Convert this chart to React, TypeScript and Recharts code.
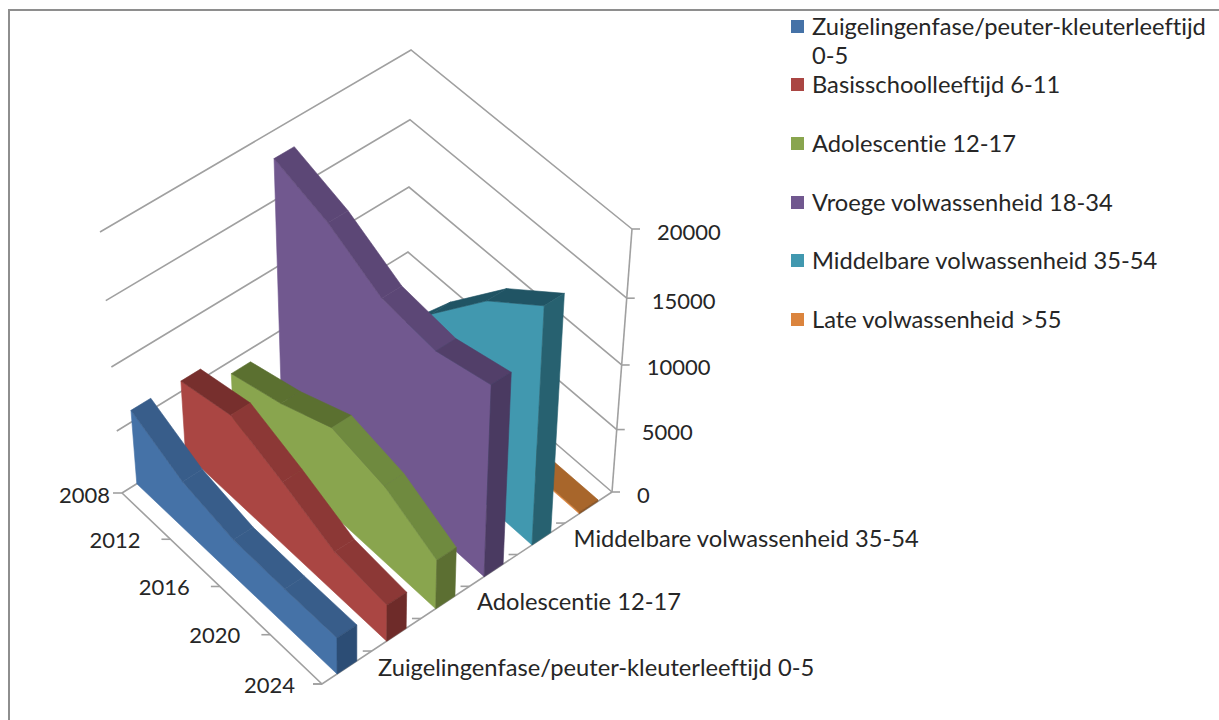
import React from 'react';
import { ScatterChart, Scatter, XAxis, YAxis, Legend } from 'recharts';

const years = ['2008', '2012', '2016', '2020', '2024'];
const seriesNames = [
  'Zuigelingenfase/peuter-kleuterleeftijd 0-5',
  'Basisschoolleeftijd 6-11',
  'Adolescentie 12-17',
  'Vroege volwassenheid 18-34',
  'Middelbare volwassenheid 35-54',
  'Late volwassenheid >55',
];
const infants = [5900, 3900, 3000, 2900, 2900];
const schoolAge = [5800, 6700, 5100, 3300, 2900];
const adolescents = [4000, 5200, 6900, 6000, 3900];
const youngAdults = [18000, 16600, 14400, 13900, 14850];
const middleAged = [3800, 5600, 10900, 15300, 18300];
const lateAdults = [120, 120, 120, 120, 120];
const seriesValues = [infants, schoolAge, adolescents, youngAdults, middleAged, lateAdults];
const valueTicks = [0, 5000, 10000, 15000, 20000];
const axisSeries = [0, 2, 4];

// front face, ridge, ridge where the line climbs, end cap
const faceColors = [
  ['#4572A7', '#385D8A', '#385D8A', '#2C4D75'],
  ['#AA4643', '#8C3836', '#772F2D', '#6E2B29'],
  ['#89A54E', '#6F8A3F', '#5B7030', '#5C6F32'],
  ['#71588F', '#5C4776', '#523F69', '#4A3A61'],
  ['#4198AF', '#205464', '#205464', '#276170'],
  ['#DB843D', '#A8662B', '#A8662B', '#8A5322'],
];

const legendRows = [27, 85, 144, 203, 261, 320];
const yearLabelGap = [12, 30, 30, 30, 27];
const textFont = 'Lato, sans-serif';
const nameSize = 23.7;
const numberSize = 22;
const textColor = '#262626';
const lineColor = '#A0A0A0';

type Pt = { x: number; y: number };

// corners of the box on the page: 2008/front, 2024/front, 2024/back, 2008/back
const floorCorners: Pt[] = [{ x: 122, y: 493 }, { x: 322, y: 684 }, { x: 612, y: 492 }, { x: 407, y: 315 }];
const roofCorners: Pt[] = [{ x: 100, y: 232 }, { x: 320, y: 420 }, { x: 632, y: 229 }, { x: 411, y: 50 }];
const valueMax = 20000;
const ribbonHalf = 0.033;

function quadMap(q: Pt[]) {
  const [p0, p1, p2, p3] = q;
  const dx1 = p1.x - p2.x, dx2 = p3.x - p2.x, dx3 = p0.x - p1.x + p2.x - p3.x;
  const dy1 = p1.y - p2.y, dy2 = p3.y - p2.y, dy3 = p0.y - p1.y + p2.y - p3.y;
  const den = dx1 * dy2 - dx2 * dy1;
  const g = (dx3 * dy2 - dx2 * dy3) / den;
  const h = (dx1 * dy3 - dx3 * dy1) / den;
  const a = p1.x - p0.x + g * p1.x, b = p3.x - p0.x + h * p3.x;
  const d = p1.y - p0.y + g * p1.y, e = p3.y - p0.y + h * p3.y;
  return (u: number, s: number): Pt => {
    const w = g * u + h * s + 1;
    return { x: (a * u + b * s + p0.x) / w, y: (d * u + e * s + p0.y) / w };
  };
}
const floorAt = quadMap(floorCorners);
const roofAt = quadMap(roofCorners);

// u runs along the years, s across the series, value goes up
function project(u: number, s: number, value: number): Pt {
  const v = value / valueMax;
  const w = (v * 0.934) / (1 - 0.066 * v);
  const f = floorAt(u, s);
  const r = roofAt(u, s);
  return { x: f.x + (r.x - f.x) * w, y: f.y + (r.y - f.y) * w };
}

const yearPos = (i: number) => i / (years.length - 1);

const polygon = (fill: string) => (props: any) => (
  <polygon
    points={props.points.map((p: Pt) => `${p.x},${p.y}`).join(' ')}
    fill={fill}
    stroke={fill}
    strokeWidth={0.6}
    strokeLinejoin="round"
  />
);
const polyline = (props: any) => (
  <polyline
    points={props.points.map((p: Pt) => `${p.x},${p.y}`).join(' ')}
    fill="none"
    stroke={lineColor}
    strokeWidth={1.6}
  />
);
const noDot = () => null;

const textShape = (anchor: string, size: number) => (props: any) => (
  <text
    x={props.cx}
    y={props.cy}
    textAnchor={anchor}
    dominantBaseline="central"
    fontFamily={textFont}
    fontSize={size}
    fill={textColor}
    style={{ fontVariantLigatures: 'none' }}
  >
    {props.payload.label}
  </text>
);

function ribbonFaces(values: number[], idx: number) {
  const center = (idx + 0.5) / seriesNames.length;
  const s0 = center - ribbonHalf;
  const s1 = center + ribbonHalf;
  const [front, ridge, rising, cap] = faceColors[idx];
  const last = values.length - 1;
  const faces: { key: string; fill: string; pts: Pt[] }[] = [];

  const topEdge = values.map((v, i) => project(yearPos(i), s0, v));
  faces.push({
    key: `front-${idx}`,
    fill: front,
    pts: [project(0, s0, 0), ...topEdge, project(1, s0, 0)],
  });
  values.slice(0, last).forEach((v, i) => {
    const next = values[i + 1];
    faces.push({
      key: `ridge-${idx}-${i}`,
      fill: next > v ? rising : ridge,
      pts: [
        project(yearPos(i), s0, v),
        project(yearPos(i + 1), s0, next),
        project(yearPos(i + 1), s1, next),
        project(yearPos(i), s1, v),
      ],
    });
  });
  faces.push({
    key: `cap-${idx}`,
    fill: cap,
    pts: [project(1, s0, 0), project(1, s0, values[last]), project(1, s1, values[last]), project(1, s1, 0)],
  });
  return faces;
}

// back series first so the nearer ones cover them
const faces = seriesValues.map((vals, i) => ribbonFaces(vals, i)).reverse().flat();

const wallLines = valueTicks.map((t) => [project(0, 0, t), project(0, 1, t), project(1, 1, t)]);
const axisLines = [
  [project(0, 0, 0), project(1, 0, 0), project(1, 1, 0)],
  [project(1, 1, 0), project(1, 1, valueMax)],
];
const valueTickMarks = valueTicks.map((t) => {
  const p = project(1, 1, t);
  return [p, { x: p.x + 8, y: p.y }];
});
const yearTickMarks = years.map((_, i) => {
  const p = project(yearPos(i), 0, 0);
  return [p, { x: p.x - 9, y: p.y }];
});
const seriesTickMarks = seriesNames.map((_, i) => {
  const p = project(1, i / seriesNames.length, 0);
  return [p, { x: p.x - 9, y: p.y }];
});

const valueLabels = valueTicks.map((t) => {
  const p = project(1, 1, t);
  return { x: p.x + 25, y: p.y + 2, label: String(t) };
});
const yearLabels = years.map((y, i) => {
  const p = project(yearPos(i), 0, 0);
  return { x: p.x - yearLabelGap[i], y: p.y + (i === 0 ? 1 : 0), label: y };
});
const seriesLabels = axisSeries.map((i) => {
  const p = project(1, i / seriesNames.length, 0);
  return { x: p.x + 56, y: p.y - 17, label: seriesNames[i] };
});

// height 0 so the chart does not give up plot space for the legend
function LegendList() {
  return (
    <div style={{ fontFamily: textFont, fontSize: nameSize, fontVariantLigatures: 'none', color: textColor, position: 'relative', width: 428, height: 0 }}>
      {seriesNames.map((name, i) => (
        <div key={name}>
          <div style={{ position: 'absolute', left: 0, top: legendRows[i] - 7, width: 13, height: 13, background: faceColors[i][0] }} />
          <div style={{ position: 'absolute', left: 21, top: legendRows[i] - 15, width: 405, lineHeight: '29px', whiteSpace: i === 0 ? 'normal' : 'nowrap' }}>
            {name}
          </div>
        </div>
      ))}
    </div>
  );
}

export default function App() {
  return (
    <div style={{ position: 'fixed', left: 0, top: 0, width: 1219, height: 720, background: '#fff', overflow: 'hidden' }}>
      <div style={{ position: 'absolute', left: 8, top: 9, width: 1211, height: 711, borderLeft: '2px solid #8E8E8E', borderTop: '2px solid #8E8E8E' }} />
      <ScatterChart width={1219} height={720} margin={{ top: 0, right: 0, bottom: 0, left: 0 }} style={{ position: 'absolute', left: 0, top: 0 }}>
        <XAxis type="number" dataKey="x" domain={[0, 1219]} hide />
        <YAxis type="number" dataKey="y" domain={[0, 720]} reversed hide />
        <Legend
          content={<LegendList />}
          wrapperStyle={{ position: 'absolute', left: 791, top: 0, width: 428, height: 0, bottom: 'auto' }}
        />
        {wallLines.map((pts, i) => (
          <Scatter key={`wall-${i}`} data={pts} line={polyline} shape={noDot} isAnimationActive={false} />
        ))}
        {[...yearTickMarks, ...seriesTickMarks, ...valueTickMarks, ...axisLines].map((pts, i) => (
          <Scatter key={`axis-${i}`} data={pts} line={polyline} shape={noDot} isAnimationActive={false} />
        ))}
        {faces.map((f) => (
          <Scatter key={f.key} data={f.pts} line={polygon(f.fill)} shape={noDot} isAnimationActive={false} />
        ))}
        <Scatter data={valueLabels} shape={textShape('start', numberSize)} isAnimationActive={false} />
        <Scatter data={yearLabels} shape={textShape('end', numberSize)} isAnimationActive={false} />
        <Scatter data={seriesLabels} shape={textShape('start', nameSize)} isAnimationActive={false} />
      </ScatterChart>
    </div>
  );
}
